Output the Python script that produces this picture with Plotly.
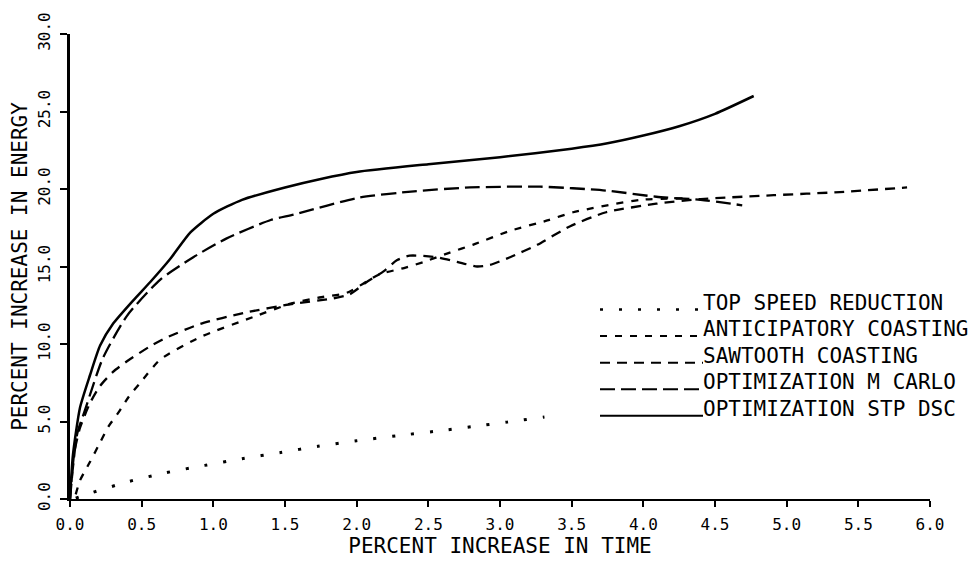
import plotly.graph_objects as go

# ---------------- data ----------------
top_speed_x = [0.04, 0.15, 0.41, 0.67, 0.94, 1.20, 1.47, 1.73, 2.00, 2.28, 2.55, 2.80, 3.05, 3.31]
top_speed_y = [0.05, 0.40, 1.13, 1.70, 2.17, 2.60, 3.00, 3.40, 3.76, 4.08, 4.37, 4.66, 4.96, 5.29]

anticip_x = [0.04, 0.07, 0.14, 0.21, 0.27, 0.34, 0.41, 0.49, 0.63, 0.91, 1.28, 1.54, 1.74, 1.93,
             2.16, 2.33, 2.47, 2.65, 2.81, 3.07, 3.33, 3.51, 3.98, 4.33]
anticip_y = [0.30, 1.20, 2.40, 3.65, 4.70, 5.60, 6.60, 7.50, 9.00, 10.45, 11.75, 12.60, 13.00, 13.30,
             14.50, 14.90, 15.30, 15.90, 16.40, 17.30, 17.97, 18.50, 19.30, 19.40]

sawtooth_x = [0.00, 0.03, 0.07, 0.14, 0.21, 0.30, 0.40, 0.55, 0.67, 0.91, 1.21, 1.56, 1.81, 1.95,
              2.07, 2.19, 2.28, 2.37, 2.56, 2.70, 2.84, 2.93, 3.07, 3.26, 3.49, 3.74, 4.09, 4.40,
              4.91, 5.37, 5.84]
sawtooth_y = [0.00, 3.00, 4.60, 6.20, 7.30, 8.20, 8.90, 9.80, 10.40, 11.30, 12.00, 12.60, 12.90, 13.20,
              14.00, 14.70, 15.40, 15.70, 15.60, 15.30, 15.00, 15.10, 15.60, 16.40, 17.60, 18.50, 19.05, 19.35,
              19.60, 19.80, 20.10]

mcarlo_x = [0.00, 0.02, 0.05, 0.105, 0.23, 0.40, 0.63, 0.86, 1.09, 1.40, 1.56, 2.02, 2.40, 2.79,
            3.28, 3.74, 4.09, 4.40, 4.69]
mcarlo_y = [0.00, 2.00, 4.20, 5.75, 9.10, 11.85, 14.16, 15.60, 16.80, 18.00, 18.35, 19.45, 19.85, 20.10,
            20.15, 19.90, 19.50, 19.30, 18.95]

stpdsc_x = [0.00, 0.02, 0.07, 0.14, 0.21, 0.30, 0.44, 0.56, 0.70, 0.84, 1.00, 1.20, 1.50, 1.75,
            2.00, 2.50, 3.00, 3.50, 3.75, 4.00, 4.25, 4.50, 4.77]
stpdsc_y = [0.00, 2.80, 5.90, 8.00, 9.90, 11.30, 12.80, 14.00, 15.50, 17.20, 18.40, 19.30, 20.10, 20.65,
            21.10, 21.60, 22.05, 22.60, 22.95, 23.45, 24.05, 24.85, 26.00]

series_names = ["TOP SPEED REDUCTION", "ANTICIPATORY COASTING", "SAWTOOTH COASTING",
                "OPTIMIZATION M CARLO", "OPTIMIZATION STP DSC"]

x_ticks = [0.0, 0.5, 1.0, 1.5, 2.0, 2.5, 3.0, 3.5, 4.0, 4.5, 5.0, 5.5, 6.0]
y_ticks = [0.0, 5.0, 10.0, 15.0, 20.0, 25.0, 30.0]

# ---------------- styling ----------------
FONT = "DejaVu Sans Mono"
INK = "black"
L, R, T, B = 70, 50, 32, 58
W, H = 980, 566
PW, PH = W - L - R, H - T - B

styles = [
    dict(dash="3px,16px", width=3.0),
    dict(dash="7px,8px", width=2.3),
    dict(dash="10px,7px", width=2.3),
    dict(dash="15px,6px", width=2.3),
    dict(dash="solid", width=2.5),
]
xs_all = [top_speed_x, anticip_x, sawtooth_x, mcarlo_x, stpdsc_x]
ys_all = [top_speed_y, anticip_y, sawtooth_y, mcarlo_y, stpdsc_y]

fig = go.Figure()
for name, xs, ys, st in zip(series_names, xs_all, ys_all, styles):
    fig.add_trace(go.Scatter(
        x=xs, y=ys, name=name, mode="lines", showlegend=False, hoverinfo="skip",
        line=dict(color=INK, width=st["width"], dash=st["dash"], shape="spline", smoothing=0.6),
    ))

# hand-drawn key: line sample running into the label, plotter style
def px_to_paper(px, py):
    return (px - L) / PW, (H - B - py) / PH

row0, row_gap = 307.0, 27.2
for i, (name, st) in enumerate(zip(series_names, styles)):
    cy = row0 + i * row_gap
    x0, y0 = px_to_paper(600, cy + 7)
    x1, _ = px_to_paper(703, cy + 7)
    fig.add_shape(type="line", xref="paper", yref="paper", x0=x0, x1=x1, y0=y0, y1=y0,
                  line=dict(color=INK, width=2 if i else 2.6, dash=st["dash"]))
    tx, ty = px_to_paper(701, cy)
    fig.add_annotation(xref="paper", yref="paper", x=tx, y=ty, text=name, showarrow=False,
                       xanchor="left", yanchor="middle",
                       font=dict(family=FONT, size=21, color=INK))

fig.update_layout(
    width=W, height=H,
    margin=dict(l=L, r=R, t=T, b=B),
    paper_bgcolor="white", plot_bgcolor="white",
    font=dict(family=FONT, color=INK),
)
fig.update_xaxes(
    range=[0, 6], tickvals=x_ticks, ticktext=[f"{v:.1f}" for v in x_ticks],
    showgrid=False, zeroline=False, showline=True, linecolor=INK, linewidth=1.5,
    ticks="outside", ticklen=6, tickwidth=1.5, tickcolor=INK,
    tickfont=dict(family=FONT, size=16, color=INK), ticklabelstandoff=4,
    title=dict(text="PERCENT INCREASE IN TIME", font=dict(family=FONT, size=21, color=INK), standoff=5),
)
fig.update_yaxes(
    range=[0, 30], tickvals=y_ticks, ticktext=[f"{v:.1f}" for v in y_ticks],
    showgrid=False, zeroline=False, showline=True, linecolor=INK, linewidth=3,
    ticks="outside", ticklen=7, tickwidth=2, tickcolor=INK, tickangle=-90,
    tickfont=dict(family=FONT, size=16, color=INK), ticklabelstandoff=4,
    title=dict(text="PERCENT INCREASE IN ENERGY", font=dict(family=FONT, size=21, color=INK), standoff=2),
)

fig.write_html("out.html")
